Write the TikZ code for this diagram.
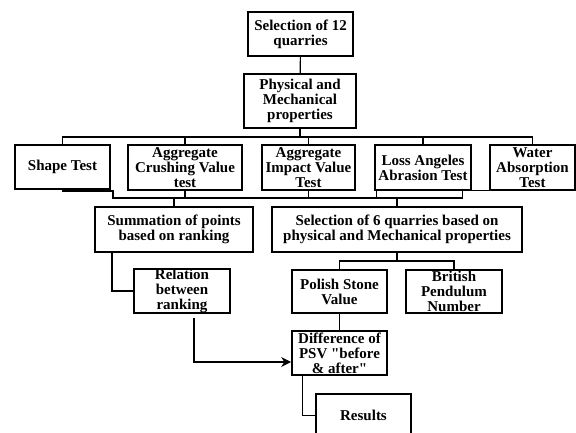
\documentclass[tikz,border=0pt]{standalone}
\usepackage{fontspec}
\setmainfont{Liberation Serif}[Ligatures=TeXOff]
\usetikzlibrary{arrows.meta}
\begin{document}
\begin{tikzpicture}[x=1pt,y=-1pt,line width=1.1pt,
  main node/.style={draw,line width=1.7pt,align=center,inner sep=0pt,
    font=\bfseries\fontsize{15}{15}\selectfont}]
  \useasboundingbox (0,0) rectangle (576,433);
  \clip (0,0) rectangle (576,433);
  \node[main node,minimum width=105,minimum height=44] (1) at (300.5,34) {Selection of 12\\quarries};
  \node[main node,minimum width=112,minimum height=54] (2) at (300,101) {Physical and\\Mechanical\\properties};
  \node[main node,minimum width=95,minimum height=44] (3) at (62.5,167) {Shape Test};
  \node[main node,minimum width=114,minimum height=45] (4) at (185,167.5) {Aggregate\\Crushing Value\\test};
  \node[main node,minimum width=93,minimum height=45] (5) at (308.5,167.5) {Aggregate\\Impact Value\\Test};
  \node[main node,minimum width=96,minimum height=45] (6) at (423,167.5) {Loss Angeles\\Abrasion Test};
  \node[main node,minimum width=85,minimum height=45] (7) at (532.5,167.5) {Water\\Absorption\\Test};
  \node[main node,minimum width=158,minimum height=45] (8) at (174,229.5) {Summation of points\\based on ranking};
  \node[main node,minimum width=250,minimum height=45] (9) at (397,229.5) {Selection of 6 quarries based on\\physical and Mechanical properties};
  \node[main node,minimum width=96,minimum height=44] (10) at (182,291) {Relation\\between\\ranking};
  \node[main node,minimum width=95,minimum height=43] (11) at (339.5,291.5) {Polish Stone\\Value};
  \node[main node,minimum width=96,minimum height=43] (12) at (454,291.5) {British\\Pendulum\\Number};
  \node[main node,minimum width=95,minimum height=44] (13) at (339.5,353) {Difference of\\PSV "before\\\& after"};
  \node[main node,minimum width=95,minimum height=44,anchor=north] (14) at (363.5,393) {Results};

  \coordinate (b1) at (300,137);
  \coordinate (b2) at (397,198);
  \coordinate (b3) at (397,261);
  \coordinate (s1) at (113,191);

  \path[draw]
   (1) edge (2)
   (2) edge (b1)
   (4.north |- b1) edge (4.north)
   (5.north |- b1) edge (5.north)
   (6.north |- b1) edge (6.north);
  \draw (3.north) |- (b1) -| (7.north);

  \draw (3.south) |- (s1) |- ([xshift=-9]6.south east |- b2) -- ([xshift=-9]6.south east);
  \path[draw]
   (4.south) edge (4.south |- b2)
   (5.south) edge (5.south |- b2)
   ([xshift=2]6.south west) edge ([xshift=2]6.south west |- b2)
   (6.south east) edge (7.south west)
   (8.north |- b2) edge (8.north)
   (b2) edge (9.north);

  \draw ([xshift=-62]8.south) |- (10.west);
  \draw (9.south) -- (b3);
  \draw (11.north) |- (b3) -| (12.north);
  \draw (11) -- (13);
  \draw[line width=2.4pt,-{Stealth[length=10pt,width=10pt]}] ([xshift=12,yshift=-4]10.south) |- ([yshift=-9]13.west);
  \draw ([xshift=11]13.south west) |- (14.west);
\end{tikzpicture}
\end{document}
